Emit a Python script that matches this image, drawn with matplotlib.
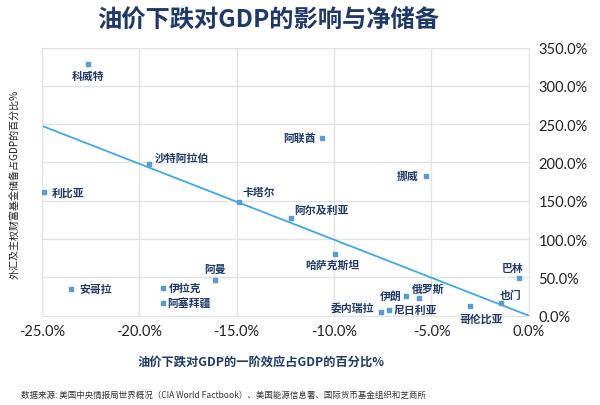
import matplotlib
matplotlib.use("Agg")
import matplotlib.pyplot as plt
from matplotlib.ticker import FuncFormatter, MultipleLocator

plt.rcParams['font.family'] = ['Noto Sans CJK SC', 'DejaVu Sans']

# 数据：油价下跌对GDP的一阶效应(%)，外汇及主权财富基金储备占GDP(%)
countries = ['科威特', '沙特阿拉伯', '利比亚', '阿联酋', '挪威', '卡塔尔', '阿尔及利亚',
             '阿曼', '伊拉克', '阿塞拜疆', '安哥拉', '哈萨克斯坦', '巴林', '也门',
             '哥伦比亚', '俄罗斯', '伊朗', '委内瑞拉', '尼日利亚']
gdp_effect = [-22.6, -19.5, -24.9, -10.6, -5.3, -14.9, -12.2,
              -16.1, -18.8, -18.8, -23.5, -9.95, -0.5, -1.45,
              -3.0, -5.65, -6.3, -7.6, -7.2]
reserves = [329, 198, 161, 232, 182, 148, 128,
            46, 36, 17, 35, 81, 49, 16,
            12, 23, 26, 5, 7]

trend_x = [-25.0, 0.0]
trend_y = [248.0, 0.0]

# 标签摆放 (dx, dy 像素, 水平对齐)
label_pos = {
    '科威特': (0, -12, 'center'), '沙特阿拉伯': (6, 6, 'left'), '利比亚': (8, 0, 'left'),
    '阿联酋': (-6, 0, 'right'), '挪威': (-7, 0, 'right'), '卡塔尔': (4, 10, 'left'),
    '阿尔及利亚': (3, 8, 'left'), '阿曼': (0, 12, 'center'), '伊拉克': (6, 0, 'left'),
    '阿塞拜疆': (5, 0, 'left'), '安哥拉': (8, 0, 'left'), '哈萨克斯坦': (-3, -11, 'center'),
    '巴林': (-7, 10, 'center'), '也门': (10, 9, 'center'), '哥伦比亚': (11, -12, 'center'),
    '俄罗斯': (9, 10, 'center'), '伊朗': (-5, 0, 'right'), '委内瑞拉': (-7, 4, 'right'),
    '尼日利亚': (5, 0, 'left'),
}

navy = '#1f3a68'
fig = plt.figure(figsize=(6, 4.06), dpi=100)
ax = fig.add_axes([0.0695, 0.22, 0.812, 0.6603])

ax.plot(trend_x, trend_y, color='#3fa9e6', lw=1.3, zorder=2)
ax.scatter(gdp_effect, reserves, marker='s', s=11, color='#5b9bd5', zorder=3)

for name, x, y in zip(countries, gdp_effect, reserves):
    dx, dy, ha = label_pos[name]
    ax.annotate(name, (x, y), xytext=(dx, dy), textcoords='offset pixels',
                ha=ha, va='center', fontsize=7.8, fontweight='bold', color=navy)

ax.set_xlim(-25, 0)
ax.set_ylim(0, 350)
ax.xaxis.set_major_locator(MultipleLocator(5))
ax.yaxis.set_major_locator(MultipleLocator(50))
ax.xaxis.set_major_formatter(FuncFormatter(lambda v, p: f'{v:.1f}%'))
ax.yaxis.set_major_formatter(FuncFormatter(lambda v, p: f'{v:.1f}%'))
ax.yaxis.tick_right()
ax.tick_params(length=0, labelsize=10.5, colors='#222222')
ax.tick_params(axis='x', pad=6)
ax.tick_params(axis='y', pad=7)
for lab in ax.get_xticklabels() + ax.get_yticklabels():
    lab.set_family('Lato')
ax.grid(True, color='#e3e3e3', lw=1)
ax.set_axisbelow(True)
for s in ax.spines.values():
    s.set_color('#e3e3e3')

fig.text(0.447, 0.948, '油价下跌对GDP的影响与净储备', ha='center', va='center',
         fontsize=17.5, fontweight='bold', color=navy)
fig.text(0.435, 0.106, '油价下跌对GDP的一阶效应占GDP的百分比%', ha='center', va='center',
         fontsize=8.8, fontweight='bold', color=navy)
fig.text(0.025, 0.547, '外汇及主权财富基金储备占GDP的百分比%', ha='center', va='center',
         rotation=90, fontsize=7.2, color='#222222')
fig.text(0.035, 0.027, '数据来源: 美国中央情报局世界概况（CIA World Factbook）、美国能源信息署、国际货币基金组织和芝商所',
         ha='left', va='center', fontsize=6.1, color='#333333')

fig.savefig('out.png', dpi=100)
